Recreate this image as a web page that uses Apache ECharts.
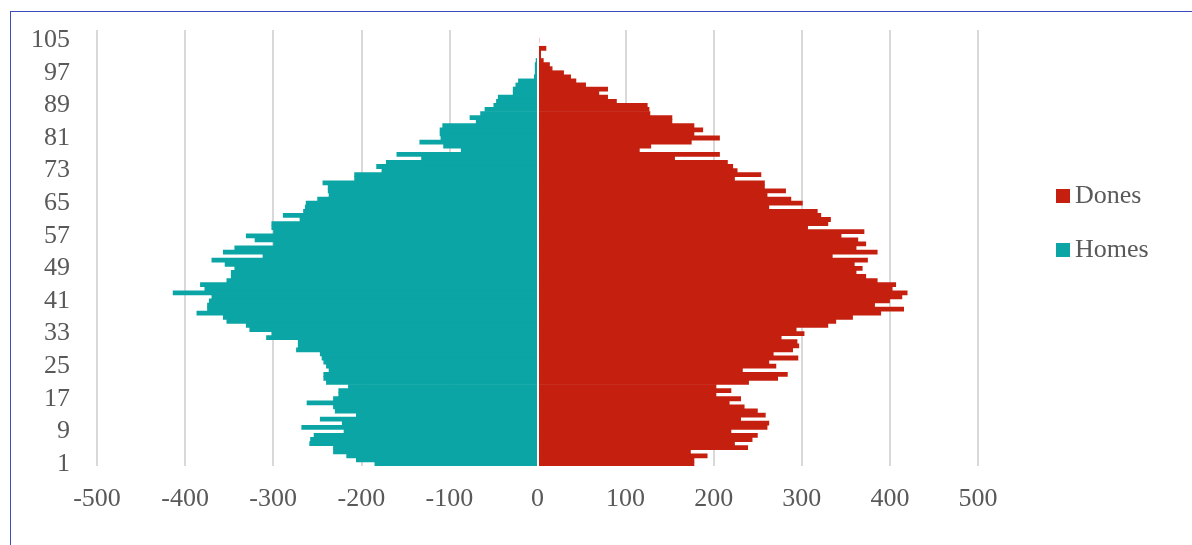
<!DOCTYPE html>
<html>
<head>
<meta charset="utf-8">
<script src="https://cdn.jsdelivr.net/npm/echarts@6/dist/echarts.min.js"></script>
<style>
html,body{margin:0;padding:0;background:#fff;overflow:hidden;}
#frame{position:absolute;left:10px;top:11px;width:1300px;height:600px;border:1px solid #3b4cc0;box-sizing:border-box;}
#chart{position:absolute;left:0;top:0;width:1192px;height:545px;}
</style>
</head>
<body>
<div id="frame"></div>
<div id="chart"></div>
<script>
// Ages 1..107 (labels every 8th)
const ages = Array.from({length: 107}, (_, i) => String(i + 1));

// Dones (women), ages 1..107
const dones = [
  178,178,193,174,239,224,244,250,220,261,
  263,231,259,250,235,218,231,203,220,203,
  240,273,284,233,271,263,296,268,290,297,
  295,277,303,294,330,339,358,390,416,383,
  400,414,420,403,407,386,373,362,369,360,
  375,335,386,362,373,364,345,371,307,330,
  333,322,318,263,301,288,261,282,258,258,
  224,254,227,222,216,156,207,116,129,175,
  207,178,188,178,153,153,128,127,125,90,
  80,70,80,55,44,38,30,17,14,7,
  4,4,10,1,2,0,0
];

// Homes (men), ages 1..107 (magnitudes; drawn to the left)
const homes = [
  185,206,217,232,232,259,258,254,220,268,
  222,247,206,230,232,262,232,226,226,215,
  240,243,243,237,240,243,245,247,274,272,
  272,308,302,327,331,353,357,387,375,375,
  373,370,414,378,383,353,348,348,344,355,
  370,312,357,344,300,321,331,300,302,302,
  270,289,266,264,263,250,237,238,238,244,
  208,208,177,183,172,132,160,87,107,134,
  110,111,111,108,70,77,65,60,50,47,
  45,28,28,25,22,4,3,3,3,2,
  0,0,0,0,0,0,0
];

const xTicks = [-500, 500, 100]; // min, max, interval

const chart = echarts.init(document.getElementById('chart'), null, {renderer: 'canvas'});
const font = "'Liberation Serif', 'DejaVu Serif', serif";
const RED = '#C5200F', TEAL = '#0BA5A5';
chart.setOption({
  animation: false,
  grid: {left: 97, right: 214, top: 30, bottom: 79, containLabel: false},
  legend: {
    orient: 'vertical', left: 1051, top: 178,
    data: ['Dones', 'Homes'],
    icon: 'rect', itemWidth: 14, itemHeight: 14, itemGap: 28,
    textStyle: {fontFamily: font, fontSize: 26, color: '#595959'}
  },
  xAxis: {
    type: 'value', min: xTicks[0], max: xTicks[1], interval: xTicks[2],
    axisLine: {show: false}, axisTick: {show: false},
    axisLabel: {fontFamily: font, fontSize: 26, color: '#595959', margin: 20},
    splitLine: {show: true, lineStyle: {color: '#d9d9d9', width: 2}}
  },
  yAxis: {
    type: 'category', data: ages,
    axisLine: {show: false}, axisTick: {show: false},
    axisLabel: {interval: 7, fontFamily: font, fontSize: 26, color: '#595959', margin: 27},
    splitLine: {show: false}
  },
  series: [
    {
      name: 'Dones', type: 'bar', stack: 'p',
      data: dones, barWidth: 4.8,
      itemStyle: {color: RED},
      markLine: {
        silent: true, symbol: 'none', label: {show: false},
        lineStyle: {color: '#ffffff', width: 2, type: 'solid'},
        data: [{xAxis: 0}], z: 10
      }
    },
    {
      name: 'Homes', type: 'bar', stack: 'p',
      data: homes.map(v => -v), barWidth: 4.8,
      itemStyle: {color: TEAL}
    }
  ]
});
</script>
</body>
</html>
